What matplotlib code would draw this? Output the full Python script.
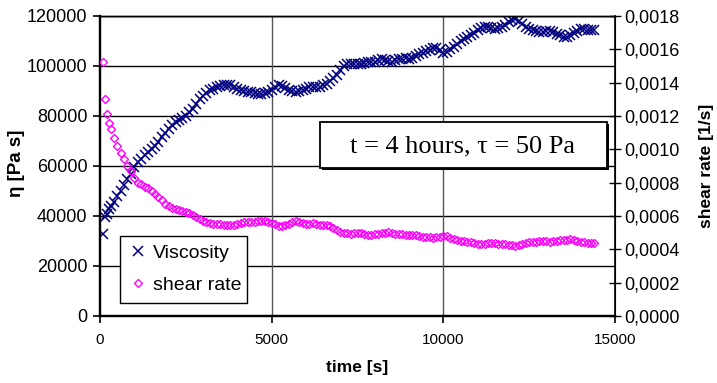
import numpy as np
import matplotlib
matplotlib.use("Agg")
import matplotlib.pyplot as plt
from matplotlib.lines import Line2D
from matplotlib.patches import Rectangle

# ---- data ----
time_s = [80, 140, 200, 260, 320] + list(range(400, 14401, 100))

viscosity = [32700, 39500, 41000, 42800, 44000,
    45800, 48000, 50000, 52500, 54800, 57000, 59500, 61500, 63000, 64400,
    65800, 66800, 67900, 69800, 71800, 73300, 75000, 76600, 77600, 78300,
    79200, 80200, 81500, 83000, 84800, 86700, 88200, 89300, 90300, 91000,
    91500, 92000, 92400, 92500, 92300, 91500, 91000, 90400, 90200, 89700,
    89600, 89200, 88900, 89000, 89300, 89800, 90400, 91500, 92400, 92000,
    91200, 90400, 89900, 89700, 90100, 90600, 91000, 91500, 91700, 91600,
    91800, 92300, 93000, 94000, 95200, 96500, 98500, 100000, 100800, 101000,
    100900, 101000, 100800, 101200, 101500, 101700, 101800, 102500, 103000, 102600,
    102000, 101700, 102300, 102800, 103000, 103200, 103000, 103400, 104000, 104700,
    105200, 106000, 106500, 107200, 107400, 106300, 105200, 105800, 106800, 107800,
    109000, 110200, 111000, 111800, 112600, 113400, 114500, 115400, 115800, 115600,
    115300, 115000, 115200, 115700, 116500, 117500, 118300, 119000, 118200, 117000,
    115800, 115000, 114500, 114000, 113800, 113700, 113900, 114000, 113500, 113000,
    112400, 111800, 111700, 112300, 113200, 114200, 114800, 115000, 114500, 114400,
    114600]

shear_rate = [0.001526, 0.00130, 0.00121, 0.00116, 0.00112,
    0.00107, 0.00102, 0.00098, 0.00094, 0.00090, 0.00087, 0.00083, 0.00080, 0.00079, 0.000775,
    0.000766, 0.00075, 0.000735, 0.000715, 0.000695, 0.000675, 0.000662, 0.00065, 0.000645, 0.000638,
    0.00063, 0.000625, 0.000618, 0.000605, 0.000592, 0.00058, 0.00057, 0.000562, 0.000558, 0.000555,
    0.000552, 0.00055, 0.000548, 0.000545, 0.000546, 0.000548, 0.000555, 0.00056, 0.000562, 0.000565,
    0.000567, 0.000565, 0.000568, 0.000572, 0.000568, 0.000562, 0.000558, 0.00055, 0.00054, 0.000538,
    0.000545, 0.000555, 0.000565, 0.000568, 0.000566, 0.00056, 0.000555, 0.000552, 0.000556, 0.000552,
    0.000548, 0.000545, 0.000546, 0.00054, 0.00053, 0.000518, 0.000505, 0.000498, 0.000496, 0.000494,
    0.000496, 0.000498, 0.000496, 0.000492, 0.000488, 0.000486, 0.00049, 0.000494, 0.000498, 0.0005,
    0.000505, 0.0005, 0.000495, 0.000492, 0.00049, 0.000488, 0.000486, 0.000488, 0.000484, 0.00048,
    0.000476, 0.000472, 0.000474, 0.00047, 0.000472, 0.000476, 0.000482, 0.000478, 0.000468, 0.00046,
    0.000456, 0.000452, 0.000448, 0.000445, 0.000446, 0.00044, 0.000434, 0.00043, 0.000435, 0.000438,
    0.000438, 0.000436, 0.000434, 0.000432, 0.00043, 0.000426, 0.000424, 0.00042, 0.000424, 0.000432,
    0.000438, 0.000442, 0.000444, 0.000446, 0.000448, 0.00045, 0.000448, 0.000446, 0.00045, 0.000452,
    0.000454, 0.000455, 0.000458, 0.00046, 0.000456, 0.000452, 0.000446, 0.000442, 0.00044, 0.00044,
    0.000438]

x_ticks = [0, 5000, 10000, 15000]
left_ticks = [0, 20000, 40000, 60000, 80000, 100000, 120000]
right_ticks = [0.0, 0.0002, 0.0004, 0.0006, 0.0008, 0.0010, 0.0012, 0.0014, 0.0016, 0.0018]
right_tick_labels = ["0,0000", "0,0002", "0,0004", "0,0006", "0,0008",
                     "0,0010", "0,0012", "0,0014", "0,0016", "0,0018"]

plt.rcParams['font.family'] = ['Liberation Sans', 'DejaVu Sans']

NAVY = "#000080"
MAG = "#FF00FF"

W, H = 717, 383
fig = plt.figure(figsize=(W/100, H/100), dpi=100)
ax = fig.add_axes([100/W, 1-316/H, 515/W, 300/H])
ax2 = ax.twinx()

ax.set_xlim(0, 15000)
ax.set_ylim(0, 120000)
ax2.set_ylim(0, 0.0018)

ax.plot(time_s, viscosity, linestyle='none', marker='x', markersize=7.5,
        markeredgewidth=1.1, color=NAVY, zorder=3)
ax2.plot(time_s, shear_rate, linestyle='none', marker='D', markersize=4.3,
         markeredgewidth=1.0, markerfacecolor='none', markeredgecolor=MAG, zorder=3)

ax.set_xticks(x_ticks)
ax.set_xticklabels([str(v) for v in x_ticks], fontsize=11)
ax.set_yticks(left_ticks)
ax.set_yticklabels([str(v) for v in left_ticks], fontsize=13)
for v in left_ticks[1:]:
    ax.axhline(v, color='black', linewidth=1.0, zorder=1)
for v in x_ticks[1:-1]:
    ax.axvline(v, color='#555555', linewidth=1.0, zorder=1)

ax.tick_params(axis='y', direction='out', length=5, width=1.2, pad=4)
ax.tick_params(axis='x', direction='out', length=5, width=1.2, pad=7)

ax2.set_yticks(right_ticks)
ax2.set_yticklabels(right_tick_labels, fontsize=13)
ax2.tick_params(axis='y', direction='inout', length=8, width=1.0, pad=3)

for sp in ['left', 'bottom']:
    ax.spines[sp].set_linewidth(1.6)
    ax2.spines[sp].set_linewidth(1.6)
ax2.spines['right'].set_linewidth(1.2)
ax2.spines['top'].set_linewidth(1.0)
ax.spines['top'].set_linewidth(1.0)

ax.set_xlabel("time [s]", fontsize=12.5, fontweight='bold')
ax.xaxis.set_label_coords(0.5, (316-360)/300)
ax.set_ylabel("η [Pa s]", fontsize=13.5, fontweight='bold')
ax.yaxis.set_label_coords((25-100)/515, 0.5 + (166-163)/300)
ax2.set_ylabel("shear rate [1/s]", fontsize=12.5, fontweight='bold')
ax2.yaxis.set_label_coords((699-100)/515, 0.5)

# annotation box
bx0, bx1, by0, by1 = 320, 607, 122, 168
fig.patches.append(Rectangle((bx0/W + 2/W, 1-(by1+2)/H), (bx1-bx0)/W, (by1-by0)/H,
                             transform=fig.transFigure, facecolor='black',
                             edgecolor='none', zorder=4))
fig.patches.append(Rectangle((bx0/W, 1-by1/H), (bx1-bx0)/W, (by1-by0)/H,
                             transform=fig.transFigure, facecolor='white',
                             edgecolor='black', linewidth=1.3, zorder=5))
fig.text((348+577)/2/W, 1-146/H, "t = 4 hours, τ = 50 Pa",
         family=['Liberation Serif', 'DejaVu Serif'], fontsize=19,
         ha='center', va='center', zorder=6)

handles = [Line2D([], [], linestyle='none', marker='x', markersize=7.5, markeredgewidth=1.1, color=NAVY),
           Line2D([], [], linestyle='none', marker='D', markersize=4.3, markeredgewidth=1.0,
                  markerfacecolor='none', markeredgecolor=MAG)]
leg = ax2.legend(handles, ["Viscosity", "shear rate"], loc='upper left',
                 bbox_to_anchor=(120/W, 1-236/H, 127/W, 0.001),
                 bbox_transform=fig.transFigure, mode='expand',
                 fontsize=14, frameon=True, fancybox=False, framealpha=1,
                 edgecolor='black', handlelength=1.0, handletextpad=0.25,
                 borderpad=0.45, labelspacing=0.75, borderaxespad=0)
leg.get_frame().set_linewidth(1.0)

fig.savefig("out.png", dpi=100)
